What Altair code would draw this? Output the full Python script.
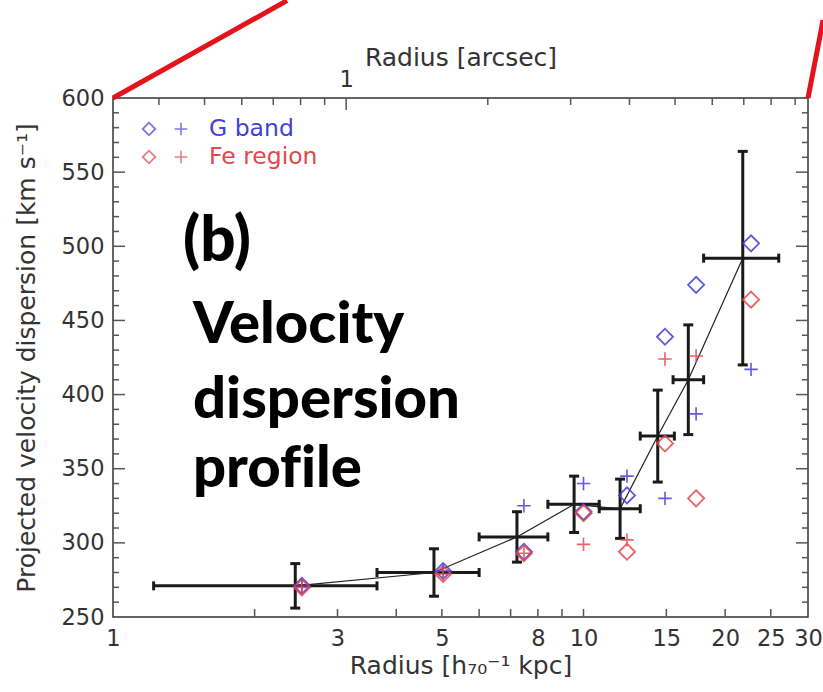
import altair as alt
import pandas as pd

# ---------------- data ----------------
# combined (binned) profile: black crosses
bin_r = [2.44, 4.81, 7.22, 9.55, 11.96, 14.38, 16.7, 21.8]
bin_r_lo = [1.22, 3.64, 6.0, 8.4, 10.8, 13.2, 15.5, 18.0]
bin_r_hi = [3.64, 6.0, 8.4, 10.8, 13.2, 15.6, 18.0, 26.0]
bin_sigma = [271, 280, 304, 326, 323, 372, 410, 492]
bin_err = [15, 16, 17, 19, 20, 31, 37, 72]

# individual measurements
meas_r = [2.52, 5.03, 7.47, 10.0, 12.37, 14.9, 17.35, 22.7]
g_diamond = [271, 281, 294, 321, 332, 439, 474, 502]
g_plus = [271, 281, 325, 340, 345, 330, 387, 417]
fe_diamond = [270, 279, 293, 320, 294, 367, 330, 464]
fe_plus = [270, 279, 293, 299, 302, 424, 426, None]

band_names = ["G band", "Fe region"]
band_colors = ["#4240d6", "#e2474b"]

# axes
x_tick_values = [2, 3, 4, 5, 6, 7, 8, 9, 10, 15, 20, 25]
x_label_values = [1, 3, 5, 8, 10, 15, 20, 25, 30]
y_label_values = [250, 300, 350, 400, 450, 500, 550, 600]
y_minor_values = [260, 270, 280, 290, 310, 320, 330, 340, 360, 370, 380, 390,
                  410, 420, 430, 440, 460, 470, 480, 490, 510, 520, 530, 540,
                  560, 570, 580, 590]
y_major_values = [300, 350, 400, 450, 500, 550]
arcsec_minor = [0.4, 0.5, 0.6, 0.7, 0.8, 0.9, 2, 3, 4, 5, 6, 7, 8, 9]
arcsec_major = [1]
kpc_per_arcsec = 3.13

# red zoom-callout lines (data units)
zoom_x = [1.0, 30.0]
zoom_x2 = [2.343, 32.3]
zoom_y = [600, 600]
zoom_y2 = [665.7, 652.6]

annot_lines = ["(b)", "Velocity", "dispersion", "prof\u200cile"]

# ---------------- layout ----------------
W, H = 695, 519
AX_FONT = "DejaVu Sans"
AX_COLOR = "#333333"

xs = alt.Scale(type="log", domain=[1, 30], nice=False)
ys = alt.Scale(domain=[250, 600], nice=False, zero=False)

df_bin = pd.DataFrame({
    "r": bin_r, "lo": bin_r_lo, "hi": bin_r_hi, "s": bin_sigma, "e": bin_err,
})
df_bin["slo"] = df_bin["s"] - df_bin["e"]
df_bin["shi"] = df_bin["s"] + df_bin["e"]

rows = []
for i, r in enumerate(meas_r):
    rows.append(("G band", "diamond", r, g_diamond[i]))
    rows.append(("G band", "plus", r, g_plus[i]))
    rows.append(("Fe region", "diamond", r, fe_diamond[i]))
    rows.append(("Fe region", "plus", r, fe_plus[i]))
df_meas = pd.DataFrame(rows, columns=["band", "kind", "r", "v"]).dropna()

color_enc = alt.Color("band:N", scale=alt.Scale(domain=band_names, range=band_colors), legend=None)

x_bottom_axis = alt.Axis(
    orient="bottom", values=x_label_values, format="d", title="Radius [h₇₀⁻¹ kpc]",
    ticks=False, tickSize=0, domain=False, grid=False, labelOverlap=False, labelFlush=False,
    labelPadding=10, titlePadding=4,
)
y_left_axis = alt.Axis(
    orient="left", values=y_label_values, title="Projected velocity dispersion [km s⁻¹]",
    ticks=False, tickSize=0, domain=False, grid=False, labelPadding=9, titlePadding=22,
)

# horizontal error bars (carry the axes)
hbar = alt.Chart(df_bin).mark_rule(strokeWidth=3, color="#1a1a1a").encode(
    x=alt.X("lo:Q", scale=xs, axis=x_bottom_axis),
    x2="hi:Q",
    y=alt.Y("s:Q", scale=ys, axis=y_left_axis),
)
vbar = alt.Chart(df_bin).mark_rule(strokeWidth=3, color="#1a1a1a").encode(
    x=alt.X("r:Q", scale=xs, axis=None),
    y=alt.Y("slo:Q", scale=ys, axis=None),
    y2="shi:Q",
)
hcaps = alt.Chart(df_bin).transform_fold(["lo", "hi"], as_=["end", "xe"]).mark_tick(
    orient="vertical", size=9, thickness=3, color="#1a1a1a", opacity=1
).encode(
    x=alt.X("xe:Q", scale=xs, axis=None),
    y=alt.Y("s:Q", scale=ys, axis=None),
)
vcaps = alt.Chart(df_bin).transform_fold(["slo", "shi"], as_=["end", "ye"]).mark_tick(
    orient="horizontal", size=10, thickness=3, color="#1a1a1a", opacity=1
).encode(
    x=alt.X("r:Q", scale=xs, axis=None),
    y=alt.Y("ye:Q", scale=ys, axis=None),
)
prof_line = alt.Chart(df_bin).mark_line(color="#222222", strokeWidth=1.2).encode(
    x=alt.X("r:Q", scale=xs, axis=None),
    y=alt.Y("s:Q", scale=ys, axis=None),
)

PLUS = "M-1,0L1,0M0,-1L0,1"
diamonds = alt.Chart(df_meas).transform_filter("datum.kind == 'diamond'").mark_point(
    shape="diamond", filled=False, size=260, strokeWidth=1.8, opacity=0.85
).encode(
    x=alt.X("r:Q", scale=xs, axis=None),
    y=alt.Y("v:Q", scale=ys, axis=None),
    color=color_enc,
)
pluses = alt.Chart(df_meas).transform_filter("datum.kind == 'plus'").mark_point(
    shape=PLUS, filled=False, size=180, strokeWidth=1.6, opacity=0.85
).encode(
    x=alt.X("r:Q", scale=xs, axis=None),
    y=alt.Y("v:Q", scale=ys, axis=None),
    color=color_enc,
)

# inward ticks
TICK_C = "#555555"
bottom_ticks = alt.Chart(pd.DataFrame({"t": x_tick_values})).mark_rule(color=TICK_C, strokeWidth=1.5).encode(
    x=alt.X("t:Q", scale=xs, axis=None), y=alt.value(H), y2=alt.value(H - 8)
)
df_arc_minor = pd.DataFrame({"a": arcsec_minor})
df_arc_major = pd.DataFrame({"a": arcsec_major})
top_minor = alt.Chart(df_arc_minor).transform_calculate(k=f"datum.a * {kpc_per_arcsec}").mark_rule(
    color=TICK_C, strokeWidth=1.5
).encode(x=alt.X("k:Q", scale=xs, axis=None), y=alt.value(0), y2=alt.value(7))
top_major = alt.Chart(df_arc_major).transform_calculate(k=f"datum.a * {kpc_per_arcsec}").mark_rule(
    color=TICK_C, strokeWidth=1.5
).encode(
    x=alt.X("k:Q", scale=xs, axis=alt.Axis(
        orient="top", values=[kpc_per_arcsec * v for v in arcsec_major], labelExpr="'1'",
        title="Radius [arcsec]", ticks=False, tickSize=0, domain=False, grid=False,
        labelPadding=7, titlePadding=-2, labelFlush=False,
    )),
    y=alt.value(0), y2=alt.value(12),
)
df_ymin = pd.DataFrame({"t": y_minor_values})
df_ymaj = pd.DataFrame({"t": y_major_values})
left_minor = alt.Chart(df_ymin).mark_rule(color=TICK_C, strokeWidth=1.5).encode(
    y=alt.Y("t:Q", scale=ys, axis=None), x=alt.value(0), x2=alt.value(6))
left_major = alt.Chart(df_ymaj).mark_rule(color=TICK_C, strokeWidth=1.5).encode(
    y=alt.Y("t:Q", scale=ys, axis=None), x=alt.value(0), x2=alt.value(12))
right_minor = alt.Chart(df_ymin).mark_rule(color=TICK_C, strokeWidth=1.5).encode(
    y=alt.Y("t:Q", scale=ys, axis=None), x=alt.value(W), x2=alt.value(W - 6))
right_major = alt.Chart(df_ymaj).mark_rule(color=TICK_C, strokeWidth=1.5).encode(
    y=alt.Y("t:Q", scale=ys, axis=None), x=alt.value(W), x2=alt.value(W - 12))

# red callout lines
df_zoom = pd.DataFrame({"x": zoom_x, "x2": zoom_x2, "y": zoom_y, "y2": zoom_y2})
zoom_lines = alt.Chart(df_zoom).mark_rule(color="#e3141b", strokeWidth=5, clip=False).encode(
    x=alt.X("x:Q", scale=xs, axis=None), x2="x2:Q",
    y=alt.Y("y:Q", scale=ys, axis=None), y2="y2:Q",
)

# manual legend
legend_layers = []
for i, (name, col) in enumerate(zip(band_names, band_colors)):
    ly = 31 + 28 * i
    d = pd.DataFrame({"name": [name]})
    legend_layers.append(alt.Chart(d).mark_point(shape="diamond", filled=False, size=160, strokeWidth=1.8, color=col)
                         .encode(x=alt.value(36), y=alt.value(ly)))
    legend_layers.append(alt.Chart(d).mark_point(shape=PLUS, filled=False, size=160, strokeWidth=1.6, color=col)
                         .encode(x=alt.value(68), y=alt.value(ly)))
    legend_layers.append(alt.Chart(d).mark_text(align="left", baseline="middle", font=AX_FONT, fontSize=23.5, color=col)
                         .encode(x=alt.value(96), y=alt.value(ly), text="name:N"))

# big annotation
annot_pos = [(70, 163, 62), (80, 245, 58), (80, 320, 58), (80, 389, 58)]
annot_layers = []
for txt, (ax, ay, fs) in zip(annot_lines, annot_pos):
    annot_layers.append(
        alt.Chart(pd.DataFrame({"t": [txt]})).mark_text(
            align="left", baseline="alphabetic", font="Lato", fontWeight=900, fontSize=fs, color="#000000"
        ).encode(x=alt.value(ax), y=alt.value(ay), text="t:N")
    )

chart = alt.layer(
    hbar, vbar, hcaps, vcaps, prof_line, diamonds, pluses,
    bottom_ticks, top_minor, top_major, left_minor, left_major, right_minor, right_major,
    zoom_lines, *legend_layers, *annot_layers,
).resolve_axis(x="independent", y="independent").properties(
    width=W, height=H,
    padding={"left": 113, "top": 98, "right": 15, "bottom": 75},
    autosize=alt.AutoSizeParams(type="none"),
).configure_view(stroke="#333333", strokeWidth=1.5).configure_axis(
    labelFont=AX_FONT, titleFont=AX_FONT, labelFontSize=22.5, titleFontSize=25,
    labelColor=AX_COLOR, titleColor=AX_COLOR, titleFontWeight="normal",
)

chart.save("out.html", embed_options={"renderer": "svg", "actions": False})
